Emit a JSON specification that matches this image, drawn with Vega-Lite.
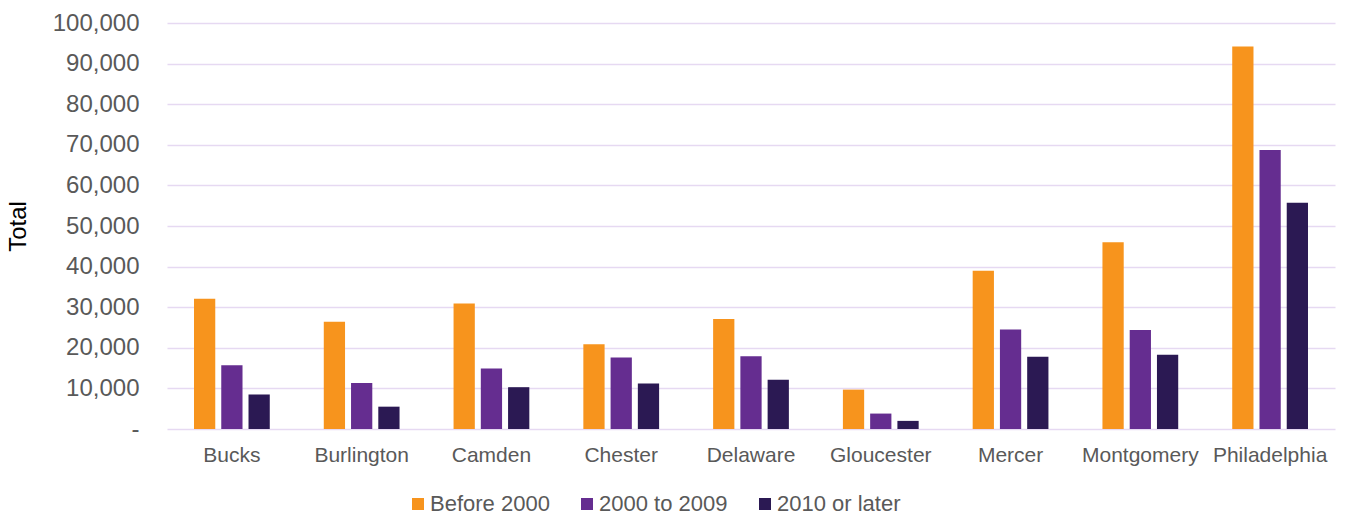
{
  "$schema": "https://vega.github.io/schema/vega-lite/v6.json",
  "autosize": {"type": "none"},
  "padding": {"left": 167, "top": 23, "right": 13, "bottom": 88},
  "width": 1168,
  "height": 406,
  "background": "#ffffff",
  "data": {
    "values": [
      {"county": "Bucks", "period": "Before 2000", "total": 32100},
      {"county": "Bucks", "period": "2000 to 2009", "total": 15700},
      {"county": "Bucks", "period": "2010 or later", "total": 8500},
      {"county": "Burlington", "period": "Before 2000", "total": 26400},
      {"county": "Burlington", "period": "2000 to 2009", "total": 11300},
      {"county": "Burlington", "period": "2010 or later", "total": 5500},
      {"county": "Camden", "period": "Before 2000", "total": 30900},
      {"county": "Camden", "period": "2000 to 2009", "total": 14900},
      {"county": "Camden", "period": "2010 or later", "total": 10300},
      {"county": "Chester", "period": "Before 2000", "total": 20900},
      {"county": "Chester", "period": "2000 to 2009", "total": 17600},
      {"county": "Chester", "period": "2010 or later", "total": 11200},
      {"county": "Delaware", "period": "Before 2000", "total": 27100},
      {"county": "Delaware", "period": "2000 to 2009", "total": 17900},
      {"county": "Delaware", "period": "2010 or later", "total": 12100},
      {"county": "Gloucester", "period": "Before 2000", "total": 9700},
      {"county": "Gloucester", "period": "2000 to 2009", "total": 3800},
      {"county": "Gloucester", "period": "2010 or later", "total": 2000},
      {"county": "Mercer", "period": "Before 2000", "total": 39000},
      {"county": "Mercer", "period": "2000 to 2009", "total": 24500},
      {"county": "Mercer", "period": "2010 or later", "total": 17800},
      {"county": "Montgomery", "period": "Before 2000", "total": 46000},
      {"county": "Montgomery", "period": "2000 to 2009", "total": 24400},
      {"county": "Montgomery", "period": "2010 or later", "total": 18300},
      {"county": "Philadelphia", "period": "Before 2000", "total": 94200},
      {"county": "Philadelphia", "period": "2000 to 2009", "total": 68700},
      {"county": "Philadelphia", "period": "2010 or later", "total": 55700}
    ]
  },
  "mark": {"type": "bar"},
  "encoding": {
    "x": {
      "field": "county",
      "type": "nominal",
      "sort": null,
      "scale": {"paddingInner": 0.37, "paddingOuter": 0.185},
      "axis": {
        "title": null,
        "labelAngle": 0,
        "labelFont": "Liberation Sans",
        "labelFontSize": 21,
        "labelColor": "#595959",
        "labelPadding": 15,
        "ticks": false,
        "domain": false
      }
    },
    "xOffset": {
      "field": "period",
      "type": "nominal",
      "sort": ["Before 2000", "2000 to 2009", "2010 or later"],
      "scale": {"paddingInner": 0.22, "paddingOuter": 0.11}
    },
    "y": {
      "field": "total",
      "type": "quantitative",
      "scale": {"domain": [0, 100000], "nice": false},
      "axis": {
        "title": "Total",
        "titleFont": "Liberation Sans",
        "titleFontSize": 24,
        "titleFontWeight": "normal",
        "titleColor": "#000000",
        "titlePadding": 22,
        "values": [0, 10000, 20000, 30000, 40000, 50000, 60000, 70000, 80000, 90000, 100000],
        "labelExpr": "datum.value === 0 ? '-\u00a0\u00a0' : format(datum.value, ',')",
        "labelFont": "Liberation Sans",
        "labelFontSize": 24,
        "labelColor": "#595959",
        "labelPadding": 28,
        "ticks": false,
        "domain": false,
        "grid": true,
        "gridColor": "#E6D9F2",
        "gridWidth": 1.5
      }
    },
    "color": {
      "field": "period",
      "type": "nominal",
      "sort": ["Before 2000", "2000 to 2009", "2010 or later"],
      "scale": {
        "domain": ["Before 2000", "2000 to 2009", "2010 or later"],
        "range": ["#F7941D", "#652D90", "#2B1953"]
      },
      "legend": {
        "title": null,
        "orient": "none",
        "direction": "horizontal",
        "legendX": 240,
        "legendY": 470,
        "symbolType": "square",
        "symbolSize": 144,
        "symbolStrokeWidth": 0,
        "labelFont": "Liberation Sans",
        "labelFontSize": 22,
        "labelColor": "#595959",
        "labelOffset": 1,
        "columnPadding": 26
      }
    }
  },
  "config": {
    "view": {"stroke": null}
  }
}
